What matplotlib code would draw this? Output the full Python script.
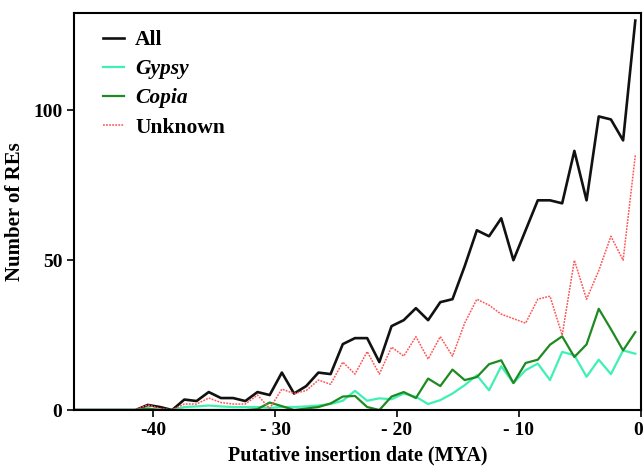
import numpy as np
import matplotlib
matplotlib.use('Agg')
import matplotlib.pyplot as plt
import matplotlib.transforms as mtransforms

plt.rcParams['font.family'] = ['Liberation Serif', 'DejaVu Serif']
plt.rcParams['font.weight'] = 'bold'

# counts per ~1 MYA bin, youngest bin first
all_res = [130, 90, 97, 98, 70, 86.5, 69, 70, 70, 60,
           50, 64, 58, 60, 48, 37, 36, 30, 34, 30,
           28, 16, 24, 24, 22, 12, 12.5, 8, 5.5, 12.5,
           5, 6, 3, 4, 4, 6, 3, 3.5, 0, 1,
           1.7, 0, 0, 0, 0, 0, 0]
gypsy = [18.8, 19.9, 12, 16.8, 11.1, 18.3, 19.4, 10, 15.5, 13.3,
         9, 14.6, 6.6, 11.6, 8.3, 5.5, 3.3, 2, 4.4, 5.5,
         3.6, 3.9, 3.1, 6.4, 3.1, 2, 1.5, 1.2, 1, 1,
         0.7, 1, 1, 1, 1.2, 1.5, 1.2, 1, 0, 0,
         0.3, 0, 0, 0, 0, 0, 0]
copia = [26, 19.9, 27, 33.8, 21.9, 17.7, 24.6, 21.8, 16.8, 15.7,
         9, 16.6, 15.3, 11, 10, 13.5, 8, 10.5, 4, 6,
         4.5, 0, 1, 4.7, 4.5, 2.2, 1, 0.5, 0, 1.3,
         2.5, 0.3, 0, 0, 0, 0, 0, 0, 0, 0,
         0.5, 0, 0, 0, 0, 0, 0]
unknown = [85, 50, 58, 46.5, 37, 50, 25, 38, 37, 29,
           30.5, 32, 35, 37, 29, 18, 24.5, 17, 24.5, 18,
           21, 12, 19.5, 12, 16, 8.6, 10, 6.5, 5.5, 7,
           0.5, 5, 2, 2, 2.5, 4, 2, 2, 0, 0.5,
           1.7, 0, 0, 0, 0, 0, 0]

ages = -(np.arange(len(all_res)) + 0.45)

fig = plt.figure(figsize=(6.44, 4.67), dpi=100)
ax = fig.add_axes([0.115, 0.122, 0.88, 0.85])

ax.plot(ages, all_res, color='#111111', lw=1.9, label='All')
ax.plot(ages, gypsy, color='#3ff0b4', lw=1.6, label='Gypsy')
ax.plot(ages, copia, color='#1f8a1f', lw=1.6, label='Copia')
ax.plot(ages, unknown, color='#ff5555', lw=1.1, ls=(0, (1.2, 0.8)), label='Unknown')

ax.set_xlim(-46.5, 0)
ax.set_ylim(0, 132.5)
ax.set_xticks([-40, -30, -20, -10, 0])
ax.set_xticklabels(['-40', '- 30', '- 20', '- 10', '0'])
ax.set_yticks([0, 50, 100])
ax.tick_params(direction='out', length=5, width=1.2, labelsize=14)
for s in ax.spines.values():
    s.set_linewidth(1.5)

# keep the last x label inside the canvas
last = ax.get_xticklabels()[-1]
last.set_transform(last.get_transform() +
                   mtransforms.ScaledTranslation(-3 / 100, 0, fig.dpi_scale_trans))

ax.set_xlabel('Putative insertion date (MYA)', fontsize=14.5, fontweight='bold', labelpad=5)
ax.set_ylabel('Number of REs', fontsize=15, fontweight='bold', labelpad=6)

leg = ax.legend(loc='upper left', bbox_to_anchor=(0.051, 0.957), frameon=False,
                fontsize=15.5, handlelength=1.0, handletextpad=0.5,
                labelspacing=0.42, borderpad=0, borderaxespad=0)
for t in leg.get_texts():
    if t.get_text() in ('Gypsy', 'Copia'):
        t.set_fontstyle('italic')

fig.savefig('out.png', dpi=100)
